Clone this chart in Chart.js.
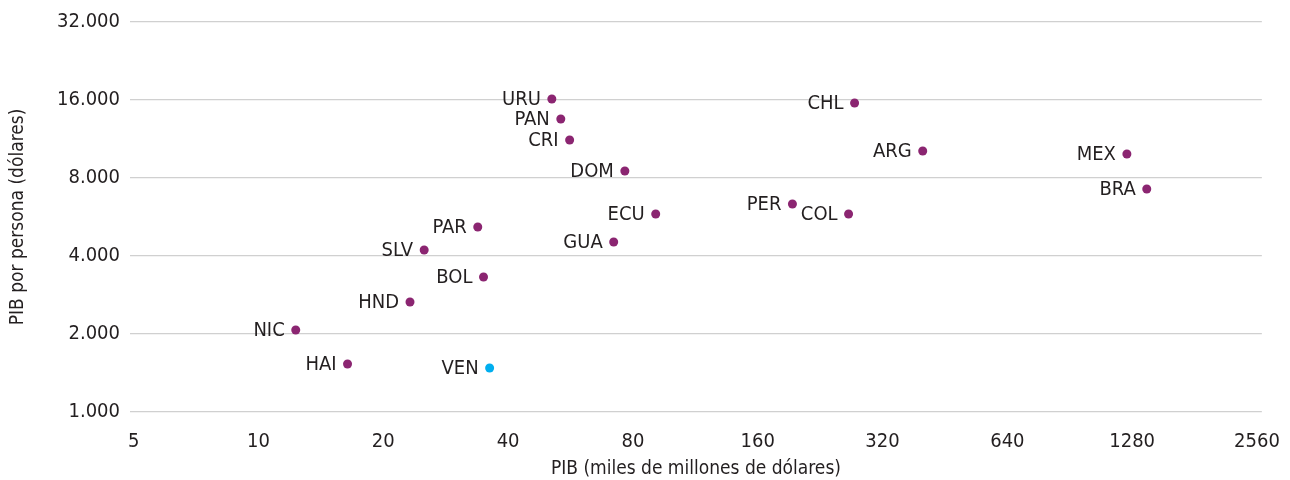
<!DOCTYPE html>
<html lang="es">

<head>
  <meta charset="UTF-8">
  <title>PIB y PIB por persona</title>
  <script src="https://cdn.jsdelivr.net/npm/chart.js"></script>
  <style>
    html, body { margin: 0; padding: 0; background: #fff; }
    #wrap { width: 1290px; height: 480px; }
  </style>
</head>

<body>
  <div id="wrap"><canvas id="pibChart"></canvas></div>

  <script>
    // Data (GDP in bn USD, GDP per capita in USD)
    const countries = ['URU', 'PAN', 'CRI', 'DOM', 'ECU', 'GUA', 'PAR', 'SLV', 'BOL', 'HND',
      'NIC', 'HAI', 'VEN', 'CHL', 'ARG', 'MEX', 'BRA', 'PER', 'COL'];
    const gdp = [51, 53.6, 56.3, 76.5, 90.8, 71.9, 33.8, 25.1, 34.9, 23.2,
      12.3, 16.4, 36.1, 274, 400, 1243, 1388, 194, 265];
    const gdpPerCapita = [16140, 13510, 11210, 8513, 5810, 4530, 5176, 4219, 3319, 2658,
      2072, 1532, 1479, 15580, 10170, 9900, 7255, 6350, 5810];

    // Axis ticks
    const xTicks = [5, 10, 20, 40, 80, 160, 320, 640, 1280, 2560];
    const yTicks = [1000, 2000, 4000, 8000, 16000, 32000];
    const yTickLabels = ['1.000', '2.000', '4.000', '8.000', '16.000', '32.000'];

    const FONT = '"Liberation Sans Narrow", "DejaVu Sans Condensed", "Roboto Condensed", sans-serif';
    const TEXT = '#231f20';
    const PURPLE = '#8b2571';
    const BLUE = '#00aeef';

    const points = countries.map((c, i) => ({ x: gdp[i], y: gdpPerCapita[i], label: c }));
    const colors = countries.map(c => c === 'VEN' ? BLUE : PURPLE);

    // draws the country code to the left of each dot
    const pointLabels = {
      id: 'pointLabels',
      afterDatasetsDraw(chart) {
        const ctx = chart.ctx;
        const meta = chart.getDatasetMeta(0);
        ctx.save();
        ctx.font = '20px ' + FONT;
        ctx.fillStyle = TEXT;
        ctx.textAlign = 'right';
        ctx.textBaseline = 'middle';
        meta.data.forEach((el, i) => {
          ctx.fillText(countries[i], el.x - 11, el.y + 1);
        });
        ctx.restore();
      }
    };

    new Chart(document.getElementById('pibChart'), {
      type: 'scatter',
      data: {
        datasets: [{
          data: points,
          backgroundColor: colors,
          borderColor: colors,
          pointRadius: 4.5,
          pointHoverRadius: 4.5,
          borderWidth: 0
        }]
      },
      options: {
        responsive: true,
        maintainAspectRatio: false,
        animation: false,
        layout: { padding: { top: 22, right: 28 } },
        plugins: {
          legend: { display: false },
          tooltip: { enabled: false }
        },
        scales: {
          x: {
            type: 'logarithmic',
            min: 4.9,
            max: 2630,
            afterBuildTicks: s => { s.ticks = xTicks.map(v => ({ value: v })); },
            afterFit: s => { s.height = 68; },
            grid: { display: false },
            border: { display: false },
            ticks: {
              padding: 10,
              color: TEXT,
              font: { family: FONT, size: 20 },
              autoSkip: false,
              maxRotation: 0,
              callback: v => String(v)
            },
            title: {
              display: true,
              text: 'PIB (miles de millones de dólares)',
              color: TEXT,
              font: { family: FONT, size: 19 },
              padding: { top: 0, bottom: 0 }
            }
          },
          y: {
            type: 'logarithmic',
            min: 1000,
            max: 32000,
            afterBuildTicks: s => { s.ticks = yTicks.map(v => ({ value: v })); },
            afterFit: s => { s.width = 130; },
            grid: { color: '#d0d0d0', lineWidth: 1.3, drawTicks: false },
            border: { display: false },
            ticks: {
              padding: 10,
              color: TEXT,
              font: { family: FONT, size: 20 },
              autoSkip: false,
              callback: v => yTickLabels[yTicks.indexOf(v)] || ''
            },
            title: {
              display: true,
              text: 'PIB por persona (dólares)',
              color: TEXT,
              font: { family: FONT, size: 19 },
              padding: { top: 7, bottom: 0 }
            }
          }
        }
      },
      plugins: [pointLabels]
    });
  </script>
</body>

</html>
